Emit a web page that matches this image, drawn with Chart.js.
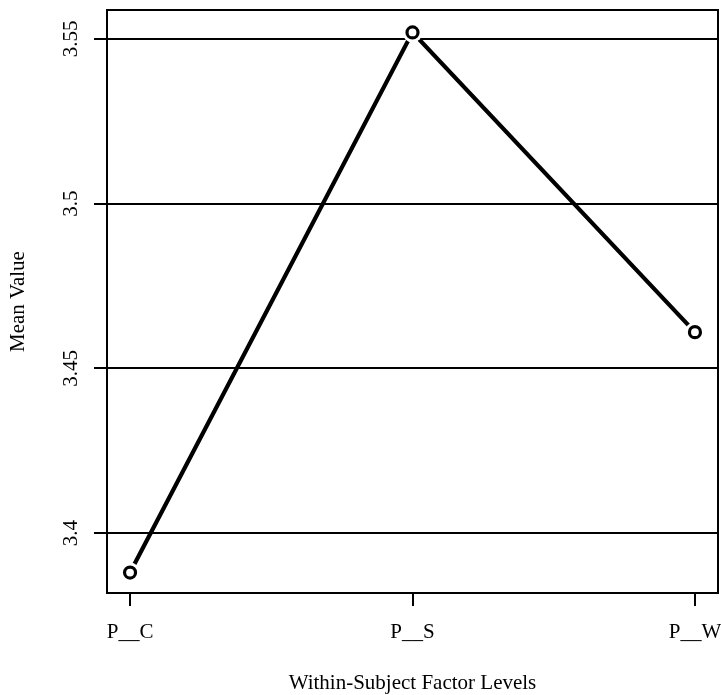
<!DOCTYPE html>
<html>
<head>
<meta charset="utf-8">
<script src="https://cdn.jsdelivr.net/npm/chart.js@4/dist/chart.umd.min.js"></script>
<style>
html,body{margin:0;padding:0;background:#fff;}
#wrap{width:721px;height:695px;}
</style>
</head>
<body>
<div id="wrap"><canvas id="c" width="721" height="695"></canvas></div>
<script>
const categories = ["P__C", "P__S", "P__W"];
const meanValues = [3.388, 3.552, 3.461];
const yTickValues = [3.4, 3.45, 3.5, 3.55];
const yTickLabels = ["3.4", "3.45", "3.5", "3.55"];
const xTitle = "Within-Subject Factor Levels";
const yTitle = "Mean Value";

const pts = meanValues.map((v, i) => ({x: i, y: v}));
const FONT = "'Liberation Serif', 'Times New Roman', serif";

const framePlugin = {
  id: 'frame',
  afterDraw(chart) {
    const {ctx, chartArea: a} = chart;
    ctx.save();
    ctx.strokeStyle = '#000';
    ctx.lineWidth = 2;
    ctx.strokeRect(a.left, a.top, a.right - a.left, a.bottom - a.top);
    ctx.restore();
  }
};

new Chart(document.getElementById('c'), {
  type: 'line',
  data: {
    datasets: [
      {data: pts, showLine: false, pointRadius: 5.5, pointBorderWidth: 3.2, pointBorderColor: '#000', pointBackgroundColor: '#fff', order: 1},
      {data: pts, showLine: false, pointRadius: 10, pointBorderWidth: 0, pointBorderColor: '#fff', pointBackgroundColor: '#fff', order: 2},
      {data: pts, showLine: true, borderColor: '#000', borderWidth: 4.2, pointRadius: 0, fill: false, order: 3, tension: 0}
    ]
  },
  options: {
    responsive: false,
    animation: false,
    events: [],
    layout: {autoPadding: false, padding: {top: 10, right: 3, left: 0, bottom: 0}},
    plugins: {legend: {display: false}, tooltip: {enabled: false}},
    scales: {
      x: {
        type: 'linear',
        min: -0.0816,
        max: 2.0816,
        afterBuildTicks: s => { s.ticks = categories.map((c, i) => ({value: i})); },
        afterFit: s => { s.height = 102; s.paddingLeft = 0; s.paddingRight = 0; },
        ticks: {
          callback: v => categories[v],
          font: {family: FONT, size: 21},
          color: '#000',
          padding: 14,
          maxRotation: 0,
          minRotation: 0,
          autoSkip: false
        },
        grid: {drawOnChartArea: false, drawTicks: true, tickLength: 13, color: '#000', lineWidth: 2},
        border: {display: false},
        title: {display: true, text: xTitle, font: {family: FONT, size: 21, lineHeight: 1.05}, color: '#000', padding: {top: 0, bottom: 0}}
      },
      y: {
        type: 'linear',
        min: 3.3818,
        max: 3.5588,
        afterBuildTicks: s => { s.ticks = yTickValues.map(v => ({value: v})); },
        afterFit: s => { s.width = 107; s.paddingTop = 0; s.paddingBottom = 0; },
        ticks: {
          callback: (v, i) => yTickLabels[i],
          font: {family: FONT, size: 21},
          color: '#000',
          padding: 4,
          minRotation: 90,
          maxRotation: 90,
          crossAlign: 'center',
          autoSkip: false
        },
        grid: {drawOnChartArea: true, drawTicks: true, tickLength: 13, color: '#000', lineWidth: 2},
        border: {display: false},
        title: {display: true, text: yTitle, font: {family: FONT, size: 21}, color: '#000', padding: {top: 6, bottom: 0}}
      }
    }
  },
  plugins: [framePlugin]
});
</script>
</body>
</html>
